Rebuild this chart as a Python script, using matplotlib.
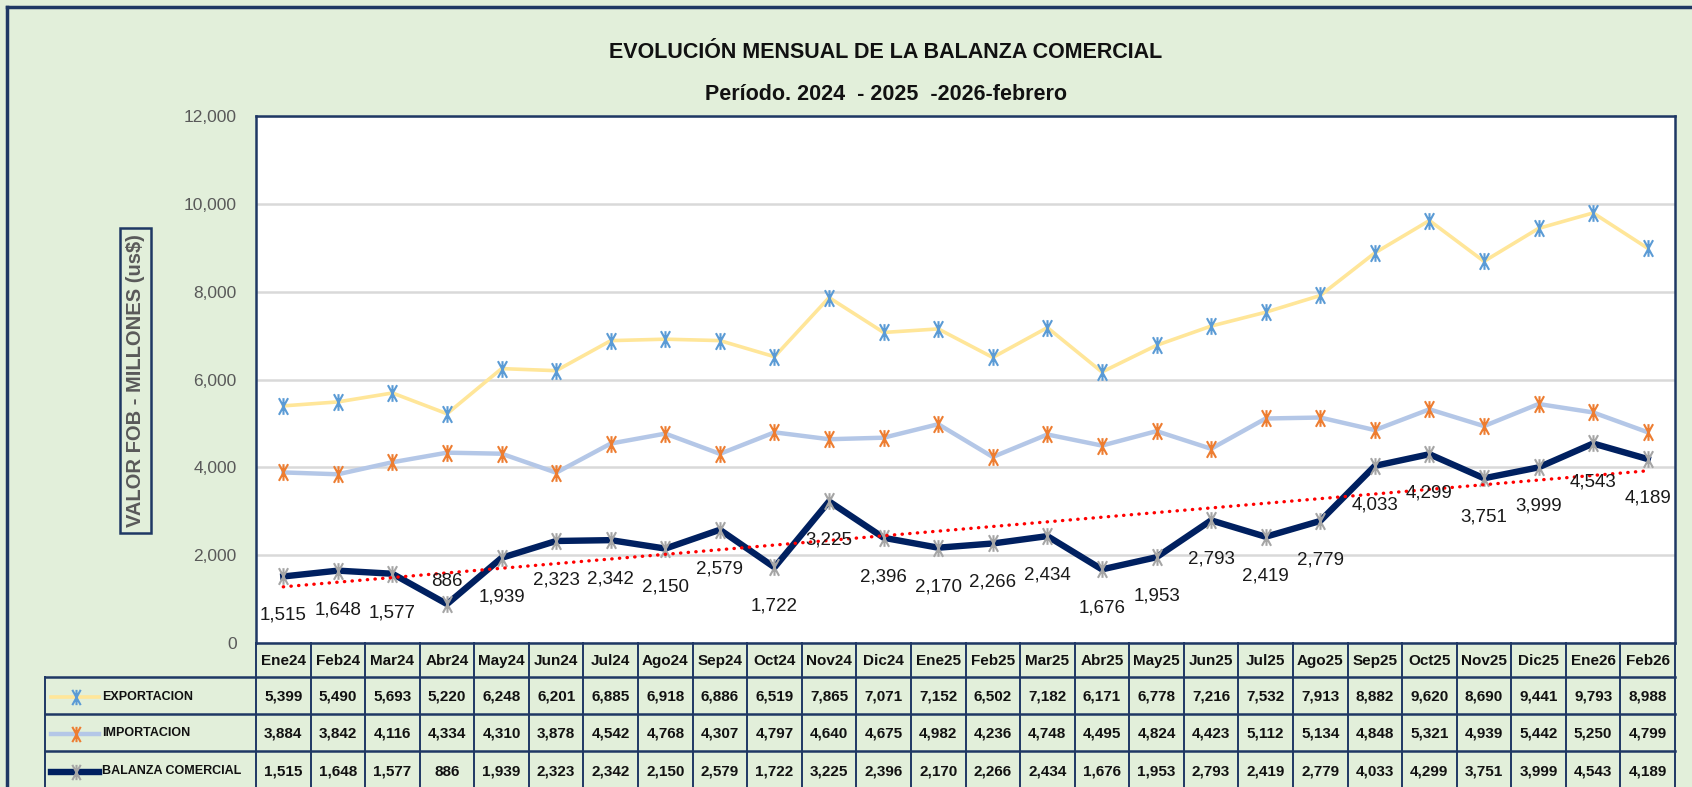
import numpy as np
import matplotlib
matplotlib.use("Agg")
import matplotlib.pyplot as plt
from matplotlib.path import Path
from matplotlib.lines import Line2D

# datos
meses = ["Ene24", "Feb24", "Mar24", "Abr24", "May24", "Jun24", "Jul24", "Ago24", "Sep24",
         "Oct24", "Nov24", "Dic24", "Ene25", "Feb25", "Mar25", "Abr25", "May25", "Jun25",
         "Jul25", "Ago25", "Sep25", "Oct25", "Nov25", "Dic25", "Ene26", "Feb26"]
exportacion = [5399, 5490, 5693, 5220, 6248, 6201, 6885, 6918, 6886, 6519, 7865, 7071, 7152,
               6502, 7182, 6171, 6778, 7216, 7532, 7913, 8882, 9620, 8690, 9441, 9793, 8988]
importacion = [3884, 3842, 4116, 4334, 4310, 3878, 4542, 4768, 4307, 4797, 4640, 4675, 4982,
               4236, 4748, 4495, 4824, 4423, 5112, 5134, 4848, 5321, 4939, 5442, 5250, 4799]
balanza = [1515, 1648, 1577, 886, 1939, 2323, 2342, 2150, 2579, 1722, 3225, 2396, 2170,
           2266, 2434, 1676, 1953, 2793, 2419, 2779, 4033, 4299, 3751, 3999, 4543, 4189]
nombres = ["EXPORTACION", "IMPORTACION", "BALANZA COMERCIAL"]
etiqueta_arriba = ["Abr24"]

W, H = 1692, 787
FONT = ["Liberation Sans", "DejaVu Sans"]
NAVY = "#1F3864"
VERDE = "#E2EFDA"

def fx(px):
    return px / W

def fy(py):
    return 1 - py / H

# marcador tipo asterisco de excel (X + linea vertical)
star = Path([(0, -1), (0, 1), (-0.55, -1), (0.55, 1), (0.55, -1), (-0.55, 1)],
            [Path.MOVETO, Path.LINETO, Path.MOVETO, Path.LINETO, Path.MOVETO, Path.LINETO])

estilos = [
    dict(color="#FFE699", lw=2.6, mec="#5B9BD5"),
    dict(color="#B4C7E7", lw=3.2, mec="#ED7D31"),
    dict(color="#002060", lw=4.6, mec="#A5A5A5"),
]

fig = plt.figure(figsize=(W / 100, H / 100), dpi=100, facecolor=VERDE)

# area del grafico
left, right, top, bottom = 256, 1675, 116, 643
ax = fig.add_axes([fx(left), fy(bottom), (right - left) / W, (bottom - top) / H])
ax.set_facecolor("white")
x = np.arange(len(meses))
for serie, st in zip([exportacion, importacion, balanza], estilos):
    ax.plot(x, serie, color=st["color"], lw=st["lw"], marker=star, ms=12,
            mfc="none", mec=st["mec"], mew=1.5, zorder=3)

# tendencia lineal de la balanza
coef = np.polyfit(x, balanza, 1)
ax.plot(x, np.polyval(coef, x), color="#FF0000", lw=2.4, ls=(0, (0.1, 2.2)),
        dash_capstyle="round", zorder=4)

for i, v in enumerate(balanza):
    dy = 16 if meses[i] in etiqueta_arriba else -28
    ax.annotate(f"{v:,}", (i, v), xytext=(0, dy), textcoords="offset points",
                ha="center", va="center", fontsize=13.5, family=FONT, color="#1a1a1a", zorder=5)

ax.set_xlim(-0.5, len(meses) - 0.5)
ax.set_ylim(0, 12000)
ax.set_yticks(range(0, 12001, 2000))
ax.set_yticklabels([f"{t:,}" for t in range(0, 12001, 2000)], family=FONT)
ax.set_xticks([])
ax.tick_params(axis="y", length=0, pad=14, labelsize=12.5, labelcolor="#595959")
ax.yaxis.grid(True, color="#D9D9D9", lw=1.8)
ax.set_axisbelow(True)
for s in ax.spines.values():
    s.set_color(NAVY)
    s.set_linewidth(1.8)

# tabla de datos
col_w = (right - left) / len(meses)
def tx(px):
    return -0.5 + (px - left) / col_w

tab = fig.add_axes([fx(45), 0, (right - 45) / W, (H - bottom) / H])
tab.set_xlim(tx(45), len(meses) - 0.5)
tab.set_ylim(H, bottom)
tab.axis("off")

filas = [677, 714, 751, H + 3]
for yl in filas[:-1]:
    tab.plot([tx(45), len(meses) - 0.5], [yl, yl], color=NAVY, lw=1.8, clip_on=False)
for i in range(len(meses) + 1):
    tab.plot([i - 0.5, i - 0.5], [bottom, H + 3], color=NAVY, lw=1.4, clip_on=False)
tab.plot([tx(45), tx(45)], [677, H + 3], color=NAVY, lw=1.4, clip_on=False)

for i, m in enumerate(meses):
    tab.text(i, (bottom + 677) / 2 + 1, m, ha="center", va="center", fontsize=11,
             fontweight="bold", family=FONT, color="#111111")

for r, (serie, nombre, st) in enumerate(zip([exportacion, importacion, balanza], nombres, estilos)):
    yc = (filas[r] + filas[r + 1]) / 2 + 1
    for i, v in enumerate(serie):
        tab.text(i, yc, f"{v:,}", ha="center", va="center", fontsize=11,
                 fontweight="bold", family=FONT, color="#111111")
    tab.plot([tx(51), tx(99)], [yc, yc], color=st["color"], lw=st["lw"], clip_on=False)
    tab.plot([tx(76)], [yc], marker=star, ms=11, mfc="none", mec=st["mec"], mew=1.5, clip_on=False)
    tab.text(tx(102), yc, nombre, ha="left", va="center", fontsize=9,
             fontweight="bold", family=FONT, color="#111111")

# titulo
fig.text(fx(886), fy(52), "EVOLUCIÓN MENSUAL DE LA BALANZA COMERCIAL", ha="center", va="center",
         fontsize=15.5, fontweight="bold", family=FONT, color="#111111")
fig.text(fx(886), fy(94), "Período. 2024  - 2025  -2026-febrero", ha="center", va="center",
         fontsize=15.5, fontweight="bold", family=FONT, color="#111111")

# titulo del eje y
fig.text(fx(135.5), fy(380.5), "VALOR FOB - MILLONES (us$)", rotation=90, ha="center", va="center",
         fontsize=14.5, fontweight="bold", color="#595959", family=FONT,
         bbox=dict(boxstyle="square,pad=0.3", fc="none", ec=NAVY, lw=1.8))

# borde exterior
fig.add_artist(Line2D([fx(7), 1], [fy(7), fy(7)], color=NAVY, lw=2.5))
fig.add_artist(Line2D([fx(7), fx(7)], [fy(7), 0], color=NAVY, lw=2.5))

fig.savefig("out.png", dpi=100, facecolor=VERDE)
